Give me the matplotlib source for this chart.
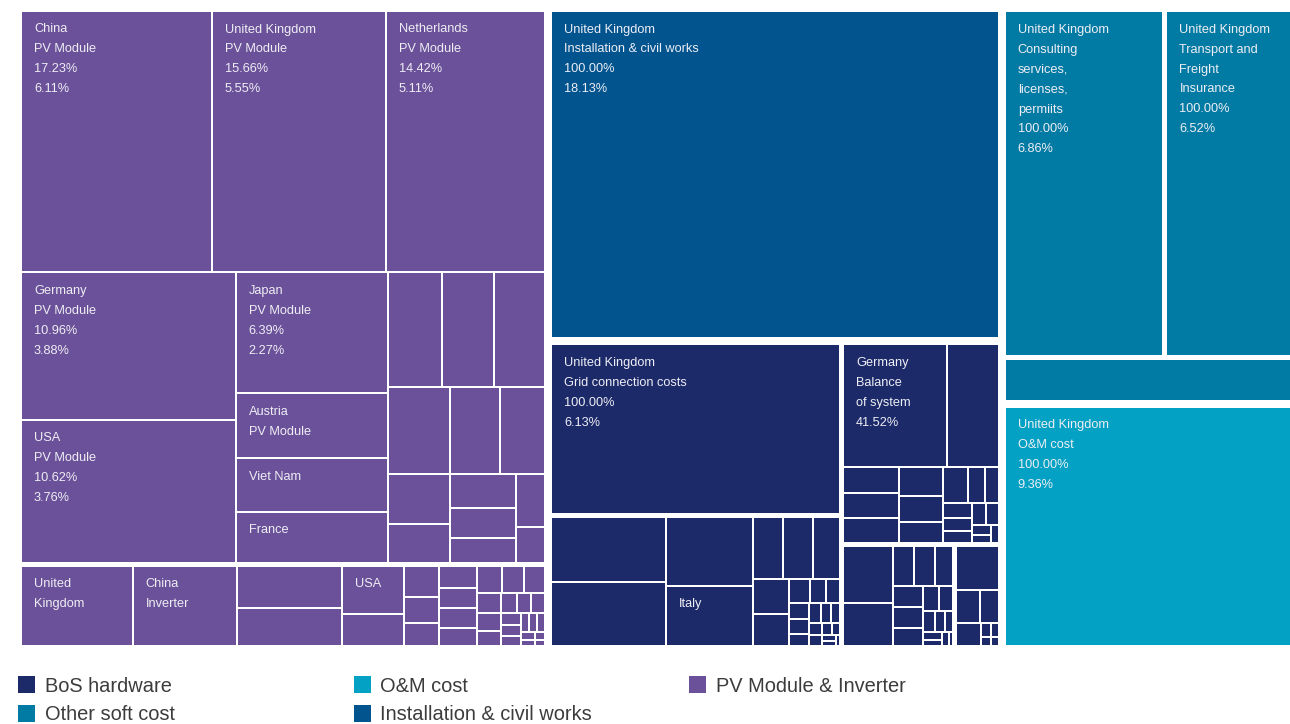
import matplotlib
matplotlib.use("Agg")
import matplotlib.pyplot as plt
from matplotlib.patches import Rectangle

plt.rcParams["font.family"] = ["Liberation Sans", "DejaVu Sans"]

# --- data: shares of total cost (%) --------------------------------------
# PV module: share inside the PV module block (as printed in the labels)
pv_module_total = 35.46
pv_module_share = [17.23, 15.66, 14.42, 10.96, 10.62, 6.39, 3.44, 2.82, 2.70,
                   2.11, 2.07, 2.05, 1.86, 1.49, 1.36, 1.07, 0.83, 0.77, 0.68,
                   0.58, 0.53, 0.36]
pv_module_labels = [
    ["China", "PV Module", "17.23%", "6.11%"],
    ["United Kingdom", "PV Module", "15.66%", "5.55%"],
    ["Netherlands", "PV Module", "14.42%", "5.11%"],
    ["Germany", "PV Module", "10.96%", "3.88%"],
    ["USA", "PV Module", "10.62%", "3.76%"],
    ["Japan", "PV Module", "6.39%", "2.27%"],
    ["Austria", "PV Module"],
    ["Viet Nam"],
    ["France"],
]

inverter = [1.131, 1.060, 0.56, 0.495, 0.375, 0.251, 0.141, 0.117, 0.105,
            0.104, 0.097, 0.095, 0.088, 0.085, 0.077, 0.073, 0.06, 0.055,
            0.045, 0.037, 0.035, 0.035, 0.03, 0.028, 0.024, 0.02, 0.02,
            0.019, 0.015, 0.012, 0.01, 0.008]
inverter_labels = [["United", "Kingdom"], ["China", "Inverter"], [], [], ["USA"]]

installation = [18.13]
installation_labels = [["United Kingdom", "Installation & civil works", "100.00%", "18.13%"]]

grid = [6.13]
grid_labels = [["United Kingdom", "Grid connection costs", "100.00%", "6.13%"]]

bos_a = [0.942, 0.927, 0.76, 0.66, 0.237, 0.237, 0.21, 0.158, 0.145, 0.063,
         0.047, 0.041, 0.04, 0.037, 0.031, 0.03, 0.025, 0.022, 0.02, 0.018,
         0.015, 0.012, 0.01, 0.008, 0.006]
bos_a_labels = [[], [], [], ["Italy"]]

balance = [1.623, 0.797, 0.18, 0.178, 0.177, 0.159, 0.142, 0.12, 0.111,
           0.077, 0.06, 0.055, 0.05, 0.044, 0.04, 0.035, 0.025, 0.02, 0.018]
balance_labels = [["Germany", "Balance", "of system", "41.52%"]]

bos_c = [0.363, 0.28, 0.108, 0.108, 0.0925, 0.0823, 0.0803, 0.0725, 0.0498,
         0.045, 0.03, 0.028, 0.022, 0.018, 0.015, 0.012, 0.008]
bos_d = [0.2526, 0.1066, 0.0799, 0.0771, 0.02, 0.015, 0.012, 0.01]

consulting = [6.86]
consulting_labels = [["United Kingdom", "Consulting", "services,", "licenses,",
                      "permiits", "100.00%", "6.86%"]]
transport = [6.52]
transport_labels = [["United Kingdom", "Transport and", "Freight", "Insurance",
                     "100.00%", "6.52%"]]
other_small = [1.72]

om = [9.36]
om_labels = [["United Kingdom", "O&M cost", "100.00%", "9.36%"]]

group_names = ["PV Module & Inverter", "Installation & civil works",
               "BoS hardware", "Other soft cost", "O&M cost"]
group_colors = ["#6b5199", "#02548f", "#1c2a69", "#027ba4", "#03a1c3"]
legend_order = ["BoS hardware", "Other soft cost", "O&M cost",
                "Installation & civil works", "PV Module & Inverter"]

pv_module = [v * pv_module_total / 100 for v in pv_module_share]

groups = [
    [(pv_module, pv_module_labels), (inverter, inverter_labels)],
    [(installation, installation_labels)],
    [(grid, grid_labels), (bos_a, bos_a_labels), (balance, balance_labels),
     (bos_c, []), (bos_d, [])],
    [(consulting, consulting_labels), (transport, transport_labels), (other_small, [])],
    [(om, om_labels)],
]

# --- squarified treemap (golden ratio, like d3) ----------------------------
PHI = (1 + 5 ** 0.5) / 2


def squarify(values, x0, y0, x1, y1):
    rects = []
    total = float(sum(values))
    i0, n = 0, len(values)
    while i0 < n:
        dx, dy = x1 - x0, y1 - y0
        s = values[i0]
        i1 = i0 + 1
        vmin = vmax = s
        alpha = max(dy / dx, dx / dy) / (total * PHI)
        beta = s * s * alpha
        best = max(vmax / beta, beta / vmin)
        while i1 < n:
            v = values[i1]
            b = (s + v) ** 2 * alpha
            r = max(max(vmax, v) / b, b / min(vmin, v))
            if r > best:
                break
            s += v
            vmin, vmax, best = min(vmin, v), max(vmax, v), r
            i1 += 1
        row = values[i0:i1]
        if dx < dy:
            h = dy * s / total if i1 < n else dy
            xx = x0
            for v in row:
                w = dx * v / s
                rects.append((xx, y0, xx + w, y0 + h))
                xx += w
            y0 += h
        else:
            w = dx * s / total if i1 < n else dx
            yy = y0
            for v in row:
                h = dy * v / s
                rects.append((x0, yy, x0 + w, yy + h))
                yy += h
            x0 += w
        total -= s
        i0 = i1
    return rects


def place(values, box, pad):
    x0, y0, x1, y1 = box
    p = pad / 2
    rects = squarify(values, x0 - p, y0 - p, x1 + p, y1 + p)
    return [(a + p, b + p, c - p, d - p) for a, b, c, d in rects]


# --- draw -------------------------------------------------------------------
fig = plt.figure(figsize=(12.9, 7.24), dpi=100)
ax = fig.add_axes([0, 0, 1, 1])
ax.set_xlim(0, 1290)
ax.set_ylim(724, 0)
ax.axis("off")

root = (22, 12, 1316, 645)
group_boxes = place([sum(sum(v) for v, _ in g) for g in groups], root, 8)
for g, gbox, color in zip(groups, group_boxes, group_colors):
    sub_boxes = place([sum(v) for v, _ in g], gbox, 5)
    for (vals, labels), sbox in zip(g, sub_boxes):
        for k, (x0, y0, x1, y1) in enumerate(place(vals, sbox, 2)):
            ax.add_patch(Rectangle((x0, y0), x1 - x0, y1 - y0,
                                   facecolor=color, edgecolor="none"))
            if k < len(labels):
                for j, line in enumerate(labels[k]):
                    ax.text(x0 + 12, y0 + 20.5 + 20 * j, line, fontsize=9.2,
                            color="#eeeef4", va="baseline", ha="left")

# legend
color_of = dict(zip(group_names, group_colors))
for i, name in enumerate(legend_order):
    col, row = divmod(i, 2)
    x = 18 + 335.5 * col
    y = 676 + 29 * row
    ax.add_patch(Rectangle((x, y), 17, 17, facecolor=color_of[name],
                           edgecolor="none", clip_on=False))
    ax.text(x + 27, y + 15.5, name, fontsize=14.4, color="#3c3c3c",
            va="baseline", ha="left")

fig.savefig("out.png", dpi=100, facecolor="white")
